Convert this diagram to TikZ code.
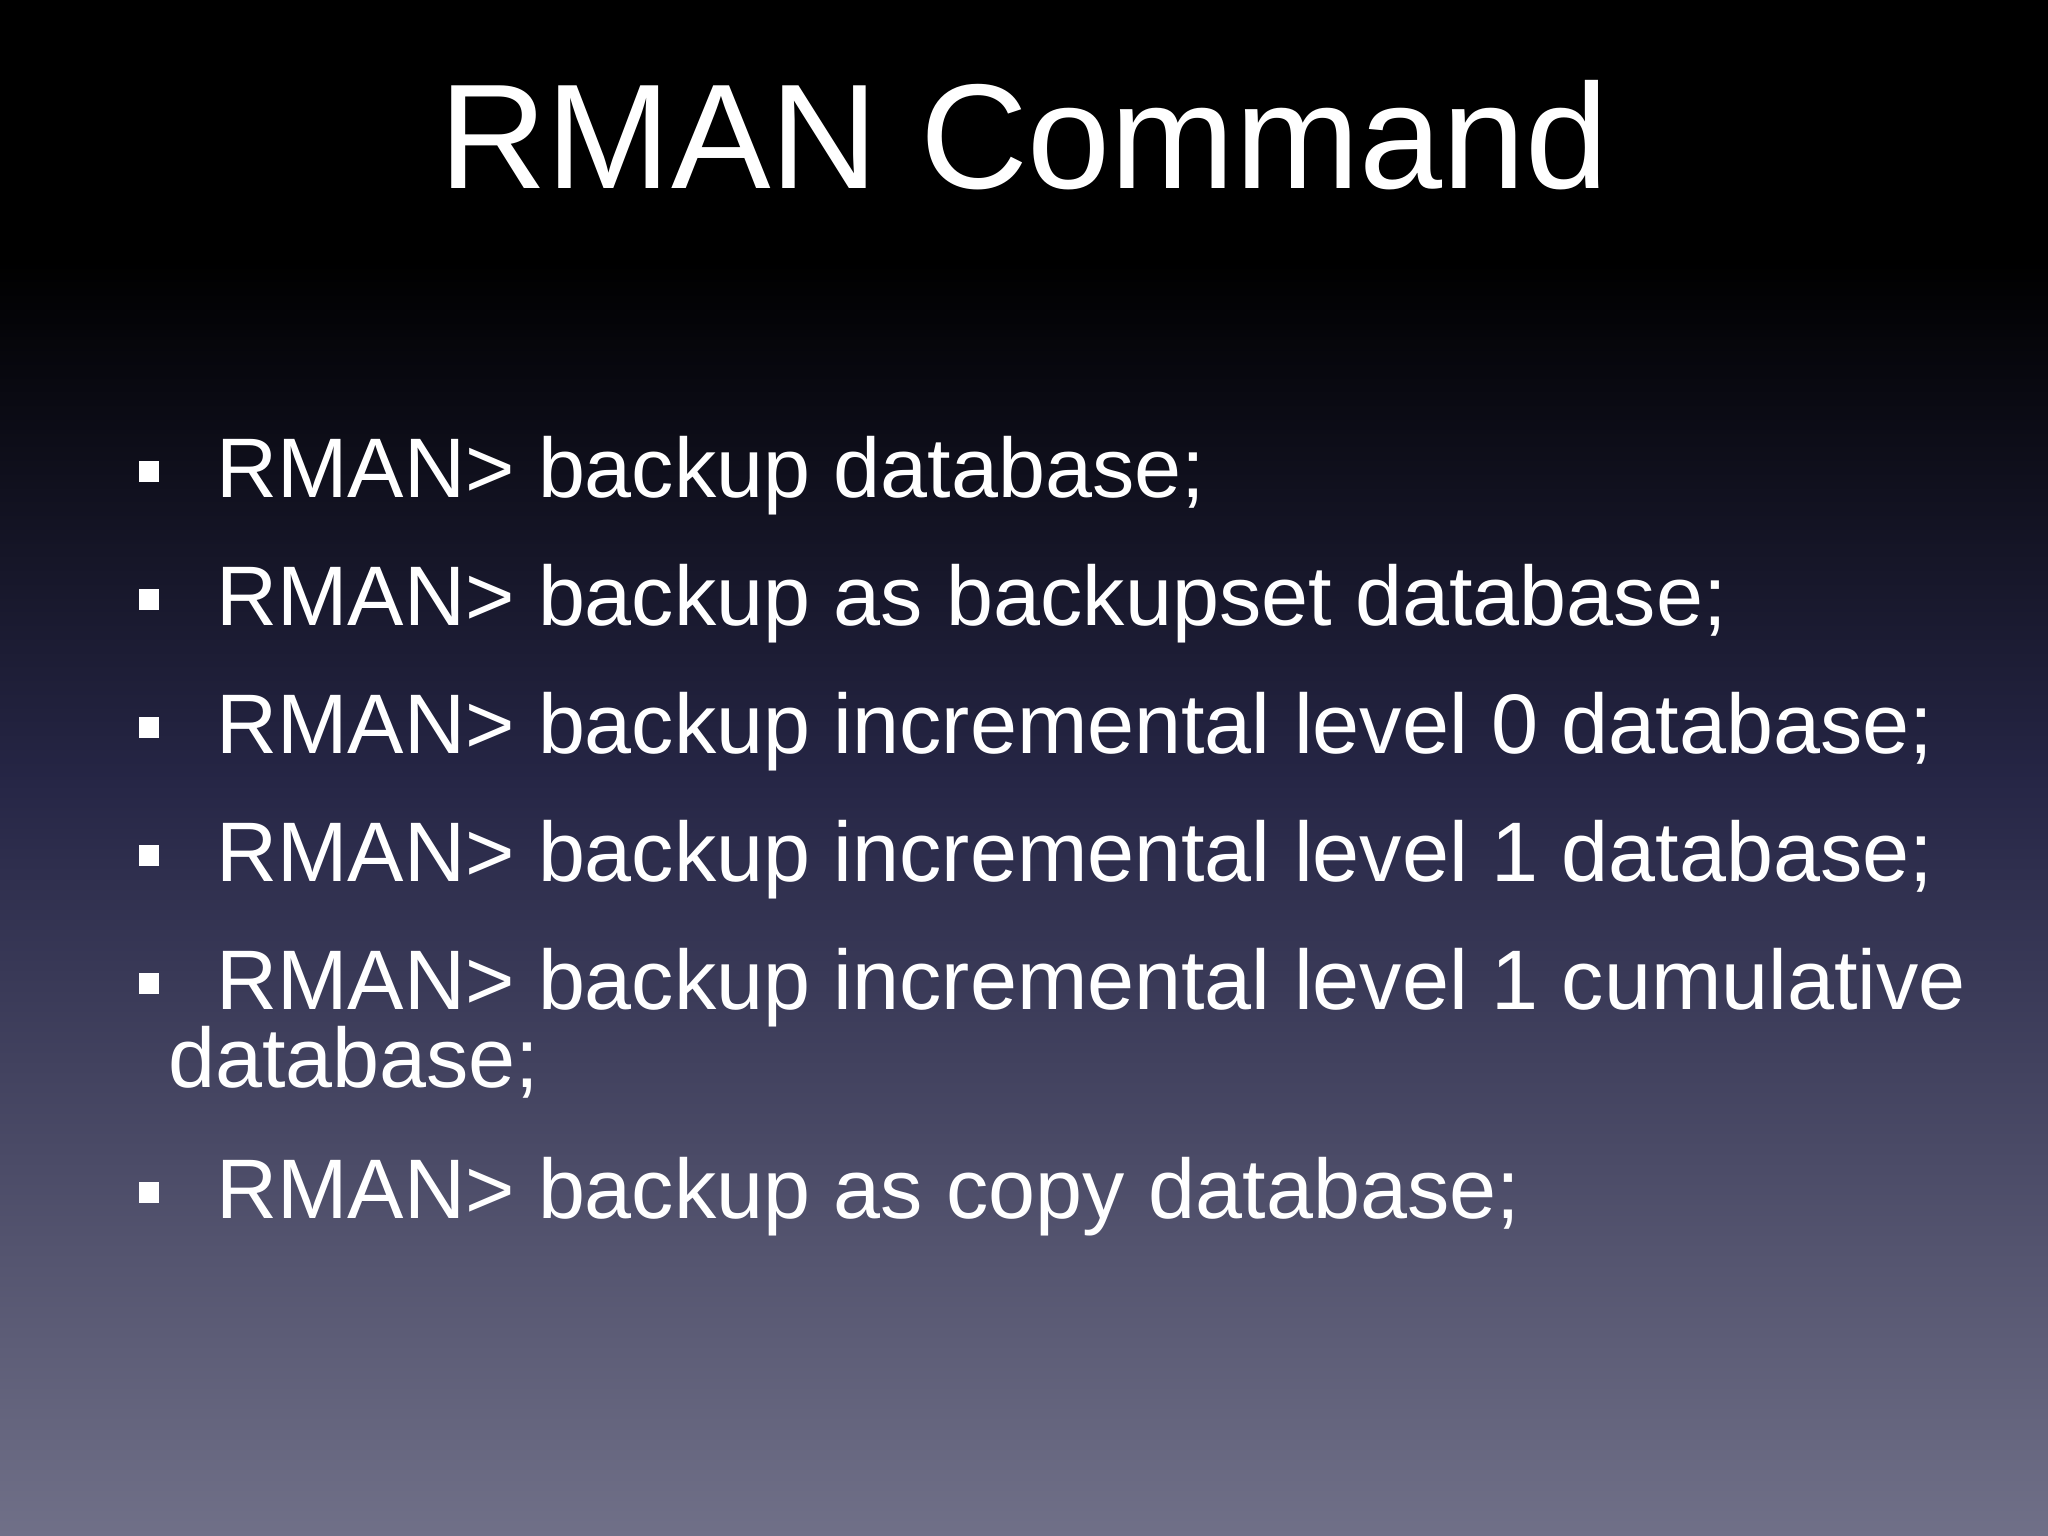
\documentclass[tikz,border=0pt]{standalone}
\usepackage{fontspec}
\setmainfont{Liberation Sans}
\definecolor{midc}{RGB}{38,38,70}
\definecolor{botc}{RGB}{112,112,136}
\begin{document}
\begin{tikzpicture}[x=0.01cm,y=-0.01cm,
  line/.style={anchor=base west,text=white,font=\fontsize{18.4}{22}\selectfont,inner sep=0},
  bul/.style={fill=white,minimum size=0.155cm,inner sep=0}]
\useasboundingbox (0,0) rectangle (1568,1176);
\fill[black] (0,0) rectangle (1568,201);
\shade[top color=black,bottom color=midc] (0,200) rectangle (1568,600);
\shade[top color=midc,bottom color=botc] (0,599) rectangle (1568,1176);
\node[anchor=base,text=white,font=\fontsize{32.5}{38}\selectfont,inner sep=0] (title) at (784,144) {RMAN Command};
\foreach \y/\t [count=\i] in {381/{RMAN> backup database;},479/{RMAN> backup as backupset database;},577/{RMAN> backup incremental level 0 database;},675/{RMAN> backup incremental level 1 database;},773/{RMAN> backup incremental level 1 cumulative},933/{RMAN> backup as copy database;}}{
  \node[bul] (b\i) at (114,\y-20) {};
  \node[line] (l\i) at (165,\y) {\t};
}
\node[line] (l5b) at (128,833) {database;};
\end{tikzpicture}
\end{document}
